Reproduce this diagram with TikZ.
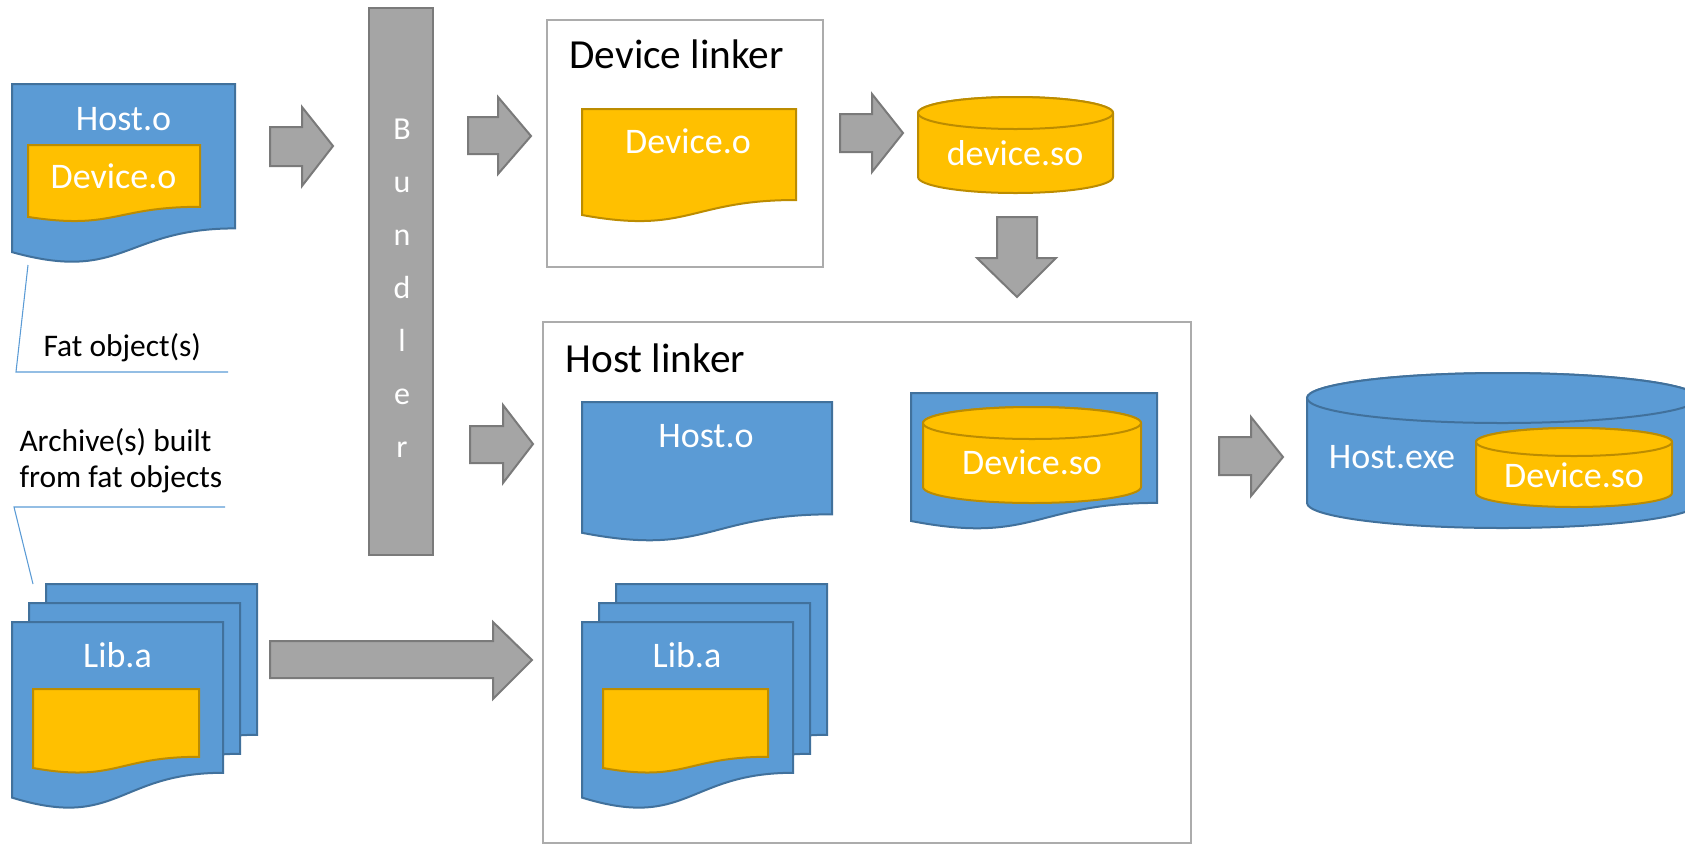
\documentclass[tikz,border=0pt]{standalone}
\usepackage{fontspec}
\setmainfont{Carlito}

\definecolor{objblue}{RGB}{91,155,213}
\definecolor{objblueline}{RGB}{65,113,156}
\definecolor{devyellow}{RGB}{255,192,0}
\definecolor{devyellowline}{RGB}{188,140,0}
\definecolor{arrowgray}{RGB}{165,165,165}
\definecolor{arrowgrayline}{RGB}{122,122,122}
\definecolor{boxgray}{RGB}{172,172,172}

\tikzset{every picture/.style={line width=0.75pt}}
\tikzset{
  hostshape/.style={draw=objblueline, fill=objblue, line width=1.5pt},
  devshape/.style={draw=devyellowline, fill=devyellow, line width=1.5pt},
  blockarrow/.style={draw=arrowgrayline, fill=arrowgray, line width=1.5pt},
  linkerbox/.style={draw=boxgray, line width=2pt},
  calloutline/.style={draw=objblue, line width=0.8pt},
  intext/.style={text=white, inner sep=0pt, anchor=base, font=\fontsize{27}{32}\selectfont},
  titletext/.style={inner sep=0pt, anchor=base west, font=\fontsize{31}{37}\selectfont},
  notetext/.style={inner sep=0pt, anchor=base west, font=\fontsize{23.6}{27}\selectfont},
  bundlertext/.style={text=white, inner sep=0pt, anchor=north, align=center, font=\fontsize{24}{39.75}\selectfont}
}

\begin{document}
\begin{tikzpicture}[x=0.75pt,y=0.75pt,yscale=-1,xscale=1]
\useasboundingbox (0,0) rectangle (1685,844);

%Shape: Rectangle [device linker]
\draw [linkerbox] (547,20) rectangle (823,267);
%Shape: Rectangle [host linker]
\draw [linkerbox] (543,322) rectangle (1191,843);

%Shape: Document [fat Host.o]
\draw [hostshape] (12,84) -- (235,84) -- (235,228.4) .. controls (123.5,228.4) and (123.5,283.3) .. (12,252.1) -- cycle ;
%Shape: Document [fat Device.o]
\draw [devshape] (28,145) -- (200,145) -- (200,206.8) .. controls (114,206.8) and (114,230.3) .. (28,216.9) -- cycle ;

%Callout Lines
\draw [calloutline] (28,265) -- (16,372) -- (228,372) ;
\draw [calloutline] (225,507) -- (14,507) -- (33,584) ;

%Shape: Multidocument [Lib.a left]
\draw [hostshape] (46,584) -- (257,584) -- (257,734.8) .. controls (151.5,734.8) and (151.5,792.2) .. (46,759.6) -- cycle ;
\draw [hostshape] (29,603) -- (240,603) -- (240,753.8) .. controls (134.5,753.8) and (134.5,811.2) .. (29,778.6) -- cycle ;
\draw [hostshape] (12,622) -- (223,622) -- (223,772.8) .. controls (117.5,772.8) and (117.5,830.2) .. (12,797.6) -- cycle ;
\draw [devshape] (33,689) -- (199,689) -- (199,756.8) .. controls (116,756.8) and (116,782.7) .. (33,768) -- cycle ;

%Shape: Rectangle [bundler]
\draw [blockarrow] (369,8) rectangle (433,555);

%Right Arrows
\draw [blockarrow] (270,127) -- (302,127) -- (302,107) -- (333,146) -- (302,186) -- (302,166) -- (270,166) -- cycle ;
\draw [blockarrow] (468,117) -- (498,117) -- (498,97) -- (531,136) -- (498,174) -- (498,154) -- (468,154) -- cycle ;
\draw [blockarrow] (470,426) -- (503,426) -- (503,405) -- (533,444) -- (503,483) -- (503,463) -- (470,463) -- cycle ;
\draw [blockarrow] (270,641) -- (493,641) -- (493,622) -- (532,660) -- (493,699) -- (493,678) -- (270,678) -- cycle ;
\draw [blockarrow] (840,114) -- (872,114) -- (872,94) -- (903,133) -- (872,172) -- (872,152) -- (840,152) -- cycle ;
\draw [blockarrow] (1219,437) -- (1251,437) -- (1251,417) -- (1283,457) -- (1251,496) -- (1251,475) -- (1219,475) -- cycle ;
%Down Arrow
\draw [blockarrow] (997,217) -- (1037,217) -- (1037,258) -- (1056,258) -- (1017,297) -- (977,258) -- (997,258) -- cycle ;

%Shape: Document [Device.o in device linker]
\draw [devshape] (582,109) -- (796,109) -- (796,200) .. controls (689,200) and (689,234.7) .. (582,215) -- cycle ;

%Shape: Can [device.so]
\draw [devshape] (918,113) -- (918,177) arc [start angle=180, end angle=0, x radius=97.5, y radius=16] -- (1113,113) arc [start angle=0, end angle=-180, x radius=97.5, y radius=16] -- cycle ;
\draw [devshape] (1015.5,113) ellipse [x radius=97.5, y radius=16] ;

%Shape: Document [Host.o in host linker]
\draw [hostshape] (582,402) -- (832,402) -- (832,514.3) .. controls (707,514.3) and (707,557.1) .. (582,532.8) -- cycle ;

%Shape: Document [Device.so holder]
\draw [hostshape] (911,393) -- (1157,393) -- (1157,502.9) .. controls (1034,502.9) and (1034,544.7) .. (911,521) -- cycle ;
%Shape: Can [Device.so]
\draw [devshape] (923,423) -- (923,487) arc [start angle=180, end angle=0, x radius=109, y radius=16] -- (1141,423) arc [start angle=0, end angle=-180, x radius=109, y radius=16] -- cycle ;
\draw [devshape] (1032,423) ellipse [x radius=109, y radius=16] ;

%Shape: Multidocument [Lib.a right]
\draw [hostshape] (616,584) -- (827,584) -- (827,734.8) .. controls (721.5,734.8) and (721.5,792.2) .. (616,759.6) -- cycle ;
\draw [hostshape] (599,603) -- (810,603) -- (810,753.8) .. controls (704.5,753.8) and (704.5,811.2) .. (599,778.6) -- cycle ;
\draw [hostshape] (582,622) -- (793,622) -- (793,772.8) .. controls (687.5,772.8) and (687.5,830.2) .. (582,797.6) -- cycle ;
\draw [devshape] (603,689) -- (768,689) -- (768,756.8) .. controls (685.5,756.8) and (685.5,782.7) .. (603,768) -- cycle ;

%Shape: Can [Host.exe]
\draw [hostshape] (1307,398) -- (1307,503) arc [start angle=180, end angle=0, x radius=195.5, y radius=25] -- (1698,398) arc [start angle=0, end angle=-180, x radius=195.5, y radius=25] -- cycle ;
\draw [hostshape] (1502.5,398) ellipse [x radius=195.5, y radius=25] ;
%Shape: Can [Device.so inside]
\draw [devshape] (1476,442) -- (1476,493) arc [start angle=180, end angle=0, x radius=98, y radius=14] -- (1672,442) arc [start angle=0, end angle=-180, x radius=98, y radius=14] -- cycle ;
\draw [devshape] (1574,442) ellipse [x radius=98, y radius=14] ;

% Text Node
\draw (123.5,130) node [intext] (fathosttxt) {Host.o};
% Text Node
\draw (113.5,188) node [intext] (fatdevtxt) {Device.o};
% Text Node
\draw (43,356) node [notetext] (fatnote) {Fat object(s)};
% Text Node
\draw (19,451) node [notetext] (archnotea) {Archive(s) built};
% Text Node
\draw (19,487) node [notetext] (archnoteb) {from fat objects};
% Text Node
\draw (117.5,667) node [intext] (libatxt) {Lib.a};
% Text Node
\draw (402,118) node [bundlertext] (bundlertxt) {B\\u\\n\\d\\l\\e\\r};
% Text Node
\draw (569,68) node [titletext] (devlinktxt) {Device linker};
% Text Node
\draw (688,153) node [intext] (devobjtxt) {Device.o};
% Text Node
\draw (1015,165) node [intext] (devsotxt) {device.so};
% Text Node
\draw (565,372) node [titletext] (hostlinktxt) {Host linker};
% Text Node
\draw (706,447) node [intext] (hostobjtxt) {Host.o};
% Text Node
\draw (1032,474) node [intext] (devsoembtxt) {Device.so};
% Text Node
\draw (687,667) node [intext] (libalinktxt) {Lib.a};
% Text Node
\draw (1392,468) node [intext] (hostexetxt) {Host.exe};
% Text Node
\draw (1574,487) node [intext] (hostexedevtxt) {Device.so};

\end{tikzpicture}
\end{document}
